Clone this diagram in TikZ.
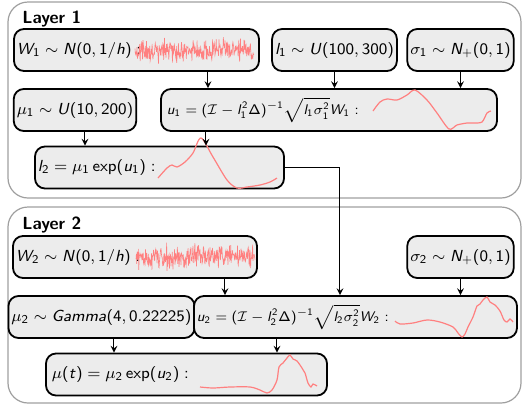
\documentclass[tikz,border=0pt]{standalone}
\usetikzlibrary{arrows}
\renewcommand{\familydefault}{\sfdefault}
% matematica sans (come beamer)
\DeclareSymbolFont{operators}{OT1}{cmss}{m}{n}
\DeclareSymbolFont{sansit}{OT1}{cmss}{m}{sl}
\DeclareMathAlphabet{\mathit}{OT1}{cmss}{m}{sl}
\DeclareMathSymbol{W}{\mathalpha}{sansit}{`W}
\DeclareMathSymbol{N}{\mathalpha}{sansit}{`N}
\DeclareMathSymbol{U}{\mathalpha}{sansit}{`U}
\DeclareMathSymbol{h}{\mathalpha}{sansit}{`h}
\DeclareMathSymbol{l}{\mathalpha}{sansit}{`l}
\DeclareMathSymbol{u}{\mathalpha}{sansit}{`u}
\DeclareMathSymbol{t}{\mathalpha}{sansit}{`t}
\DeclareMathSymbol{\Delta}{\mathalpha}{operators}{"01}

\begin{document}
\begin{tikzpicture}[x=0.5pt, y=-0.5pt, >=stealth, font=\fontsize{8}{10}\selectfont]

% Stili dei blocchi
\tikzstyle{layer} = [draw=gray!75, line width=0.6pt, rounded corners=10pt]
\tikzstyle{box} = [rectangle, draw, line width=0.9pt, fill=gray!15,
    rounded corners=5pt, minimum height=21pt, inner sep=1.5pt]
\tikzstyle{plotbox} = [box, align=left]
\tikzstyle{eqbox} = [plotbox, font=\fontsize{7.3}{9}\selectfont]
\tikzstyle{arrow} = [->, line width=0.5pt]
\tikzstyle{sample} = [red!50, line width=0.6pt]
\tikzstyle{noise} = [red!50, line width=0.3pt]
\tikzstyle{title} = [anchor=base west, inner sep=0pt, font=\fontsize{8.8}{10}\selectfont\bfseries]

\useasboundingbox (0,0) rectangle (527,409);

% Livelli
\draw[layer] (8,2) rectangle (521,198);
\draw[layer] (8,207) rectangle (521,403);
\node (t1) [title] at (22,23) {Layer 1};
\node (t2) [title] at (22,229) {Layer 2};

% Nodi - livello 1
\node (w1) [plotbox, text width=119.5pt] at (136.5,50) {$W_1 \sim N(0,1/h) :$};
\node (l1) [box, minimum width=60.5pt] at (334.5,50) {$l_1 \sim U(100,300)$};
\node (s1) [box, minimum width=51.5pt] at (460.5,50) {$\sigma_1 \sim N_+(0,1)$};
\node (mu1) [box, minimum width=61pt] at (75,110) {$\mu_1 \sim U(10,200)$};
\node (u1) [eqbox, inner xsep=3pt, text width=162pt] at (329,110)
    {$u_1 = (\mathcal{I} - l_1^2\Delta)^{-1}\sqrt{l_1\sigma_1^2}W_1 :$};
\node (l2) [plotbox, text width=121.5pt] at (159.5,167.5) {$l_2 = \mu_1 \exp(u_1) :$};

% Nodi - livello 2
\node (w2) [plotbox, text width=119pt] at (135,257) {$W_2 \sim N(0,1/h) :$};
\node (s2) [box, minimum width=51.5pt] at (460.5,257) {$\sigma_2 \sim N_+(0,1)$};
\node (mu2) [box, minimum width=88.5pt] at (101.5,317) {$\mu_2 \sim \mathit{Gamma}(4,0.22225)$};
\node (u2) [eqbox, text width=158.5pt] at (355.5,317)
    {$u_2 = (\mathcal{I} - l_2^2\Delta)^{-1}\sqrt{l_2\sigma_2^2}W_2 :$};
\node (mut) [plotbox, inner xsep=3pt, text width=134.5pt] at (186.5,374.5) {$\mu(t) = \mu_2 \exp(u_2) :$};

% Campioni
\pgfmathsetseed{7}
\draw[noise] plot[domain=135:254, samples=300] (\x, {50 + 5.5*(rand+rand+rand)});
\draw[noise] plot[domain=136:255, samples=300] (\x, {257 + 5.5*(rand+rand+rand)});
\draw[sample] plot[smooth] coordinates {(373,111) (380,102) (387,99) (397,100) (407,95)
    (415,90) (427,100) (437,113) (449,129) (457,125) (467,123) (473,123) (482,122) (487,113) (491,111)};
\draw[sample] plot[smooth] coordinates {(158,178) (167,168) (172,165) (177,167) (185,162)
    (193,153) (201,138) (213,157) (227,180) (237,188) (247,187) (260,185) (270,182) (277,178)};
\draw[sample] plot[smooth] coordinates {(395,321) (400,324) (413,323) (427,320) (440,322)
    (453,327) (458,333) (462,337) (465,334) (468,327) (473,317) (477,306) (480,304) (483,300)
    (487,297) (490,302) (495,305) (500,311) (504,320) (507,322) (510,319) (513,322)};
\draw[sample] plot[smooth] coordinates {(200,387) (213,388) (230,387) (250,387) (260,390)
    (267,393) (272,390) (277,380) (279,367) (283,363) (287,358) (290,355) (293,359) (297,361)
    (302,368) (305,373) (308,383) (311,387) (313,384) (317,386)};

% Frecce
\draw[arrow] (w1.south -| 208,0) -- (u1.north -| 208,0);
\draw[arrow] (l1.south) -- (l1.south |- u1.north);
\draw[arrow] (s1.south) -- (s1.south |- u1.north);
\draw[arrow] (mu1.south -| 85,0) -- (l2.north -| 85,0);
\draw[arrow] (u1.south -| 206,0) -- (l2.north -| 206,0);
\draw[arrow] (l2.east) -| (u2.north -| 340,0);
\draw[arrow] (w2.south -| 225,0) -- (u2.north -| 225,0);
\draw[arrow] (s2.south) -- (s2.south |- u2.north);
\draw[arrow] (mu2.south -| 114,0) -- (mut.north -| 114,0);
\draw[arrow] (u2.south -| 277,0) -- (mut.north -| 277,0);

\end{tikzpicture}
\end{document}
